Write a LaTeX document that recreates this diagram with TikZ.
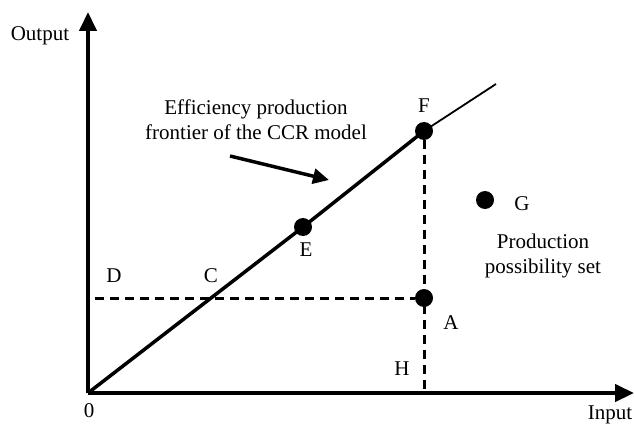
\documentclass[tikz,border=0pt]{standalone}
\usepackage{fontspec}
\setmainfont{Liberation Serif}
\usetikzlibrary{arrows.meta, calc}

\begin{document}
\begin{tikzpicture}[x=1pt, y=-1pt, font=\fontsize{21}{25}\selectfont,
  dot/.style={circle, fill=black, inner sep=0pt, minimum size=18pt},
  axis/.style={line width=4.5pt, -{Triangle[length=19pt, width=17pt]}},
  guide/.style={line width=3pt, dash pattern=on 9pt off 6pt}]

\useasboundingbox (0,0) rectangle (634,428);

% Axes
\coordinate (O) at (88,393);
\coordinate (Ytop) at (88,12);
\coordinate (Xend) at (634,393);
\draw[axis] (O) -- (Ytop);
\draw[axis] (O) -- (Xend);
\node (out) at (40,36) {Output};
\node (in) at (610,415) {Input};
\node (zero) at (89,411) {0};

% Points
\node[dot] (E) at (303,227) {};
\node[dot] (F) at (424,131) {};
\node[dot] (A) at (424,298) {};
\node[dot] (G) at (485,200) {};
\coordinate (D) at (95,298);
\coordinate (H) at (424,391);
\coordinate (Fend) at (496,84);

% Frontier of the CCR model
\draw[line width=3.5pt] (O) -- (E.center) -- (F.center);
\draw[line width=1.8pt] (F.center) -- (Fend);

% Dashed guides
\draw[guide] (D) -- (A);
\draw[guide] (F) -- (H);

% Labels
\node (lD) at (114,276) {D};
\node (lC) at (211,276) {C};
\node (lE) at (306,250) {E};
\node (lF) at (424,106) {F};
\node (lG) at (522,204) {G};
\node (lA) at (451,323) {A};
\node (lH) at (402,369) {H};

\node[align=center] (fr) at (256,120) {Efficiency production\\frontier of the CCR model};
\node[align=center] (pps) at (543,256) {Production\\possibility set};

\coordinate (arrS) at (230,156);
\coordinate (arrE) at (329,180);
\draw[line width=3.5pt, -{Triangle[length=16pt, width=15pt]}] (arrS) -- (arrE);

\end{tikzpicture}
\end{document}
